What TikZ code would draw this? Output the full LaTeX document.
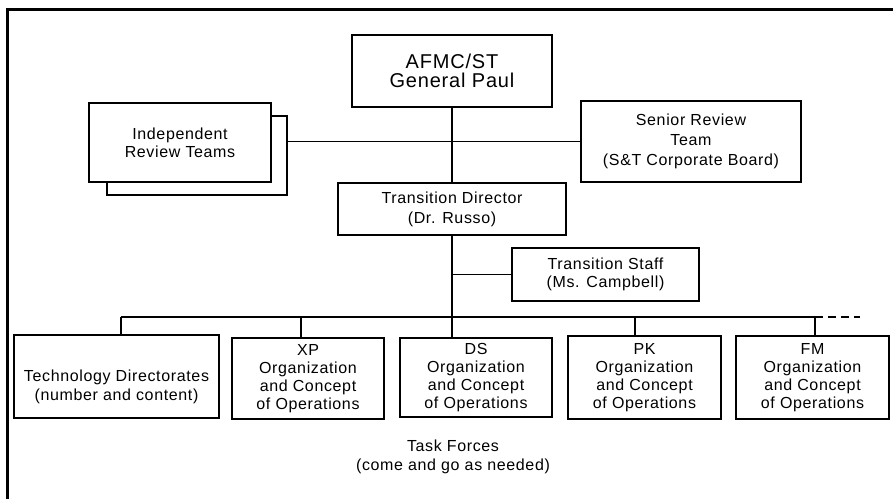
\documentclass[tikz,border=0pt]{standalone}
\usepackage{fontspec}
\setmainfont{Liberation Sans}[LetterSpace=4]
\begin{document}
\begin{tikzpicture}[x=1pt,y=-1pt,
  box/.style={draw=black,line width=1.9pt,fill=white,rectangle,inner sep=0pt,align=center,
    font=\fontsize{16}{18}\selectfont},
  txt/.style={align=center,inner sep=0pt,font=\fontsize{16}{19}\selectfont},
  conn/.style={draw=black,line width=1.8pt}]
\useasboundingbox (0,0) rectangle (893,499);
% frame
\draw[line width=3pt] (7.5,499) -- (7.5,9.5) -- (893,9.5);
% top boxes
\node[box,minimum width=200pt,minimum height=72pt,font=\fontsize{20}{19}\selectfont] (afmc) at (452,71) {AFMC/ST\\General Paul};
\node[box,minimum width=180pt,minimum height=79pt] (irtb) at (197,155.5) {};
\node[box,minimum width=182pt,minimum height=79pt] (irt) at (180,142.5) {Independent\\Review Teams};
\node[box,minimum width=220pt,minimum height=81pt,font=\fontsize{16}{20}\selectfont] (srt) at (691,141.5) {Senior Review\\Team\\(S\&T Corporate Board)};
\node[box,minimum width=228pt,minimum height=52pt,font=\fontsize{16}{20}\selectfont] (td) at (452,209) {Transition Director\\(Dr. Russo)};
\node[box,minimum width=187pt,minimum height=53pt] (ts) at (605.5,274.5) {Transition Staff\\(Ms. Campbell)};
% bottom boxes
\node[box,minimum width=205pt,minimum height=83pt] (tech) at (116.5,376.5) {};
\node[txt] (techtxt) at (116.5,387) {Technology Directorates\\(number and content)};
\node[box,minimum width=152pt,minimum height=81pt] (xp) at (308,378.5) {XP\\Organization\\and Concept\\of Operations};
\node[box,minimum width=152pt,minimum height=79pt] (ds) at (476,377.5) {DS\\Organization\\and Concept\\of Operations};
\node[box,minimum width=153pt,minimum height=83pt] (pk) at (644.5,377.5) {PK\\Organization\\and Concept\\of Operations};
\node[box,minimum width=153pt,minimum height=83pt] (fm) at (812.5,377.5) {FM\\Organization\\and Concept\\of Operations};
\node[txt] (tf) at (453,457) {Task Forces\\(come and go as needed)};
% connectors
\draw[conn] (afmc.south) -- (td.north);
\draw[conn] (srt.west) -- (srt.west -| irtb.east);
\draw[conn] (td.south) -- (td.south |- ds.north);
\draw[conn] (ts.west) -- (ts.west -| td.south);
\coordinate (b1) at (121,317);
\coordinate (b2) at (301,317);
\coordinate (b4) at (635,317);
\coordinate (b5) at (815,317);
\coordinate (bend) at (860,317);
\draw[conn] (b1) -- (b5);
\draw[conn,dashed,dash pattern=on 8pt off 5pt] (b5) -- (bend);
\draw[conn] (b1) -- (b1 |- tech.north);
\draw[conn] (b2) -- (b2 |- xp.north);
\draw[conn] (b4) -- (b4 |- pk.north);
\draw[conn] (b5) -- (b5 |- fm.north);
\end{tikzpicture}
\end{document}
